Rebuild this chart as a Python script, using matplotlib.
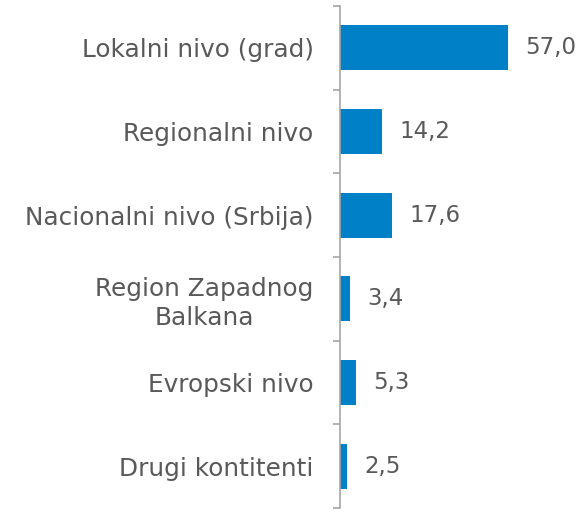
import matplotlib
matplotlib.use("Agg")
import matplotlib.pyplot as plt
import numpy as np

categories = ["Lokalni nivo (grad)", "Regionalni nivo", "Nacionalni nivo (Srbija)",
              "Region Zapadnog\nBalkana", "Evropski nivo", "Drugi kontitenti"]
values = [57.0, 14.2, 17.6, 3.4, 5.3, 2.5]

bar_color = "#0080C6"
text_color = "#595959"
axis_color = "#A6A6A6"

plt.rcParams['font.family'] = ['DejaVu Sans']

fig = plt.figure(figsize=(5.83, 5.14), dpi=100)
ax = fig.add_axes([340 / 583, 6 / 514, 243 / 583, 502 / 514])

y = np.arange(len(categories))
ax.barh(y, values, height=0.54, color=bar_color)

for yi, v in zip(y, values):
    ax.text(v + 5.8, yi, "{:.1f}".format(v).replace(".", ","), va="center", ha="left",
            fontsize=16.5, color=text_color)

ax.set_ylim(len(categories) - 0.5, -0.5)
ax.set_xlim(0, 82.4)

for s in ["top", "right", "bottom"]:
    ax.spines[s].set_visible(False)
ax.spines["left"].set_color(axis_color)
ax.spines["left"].set_linewidth(1.2)

ax.set_xticks([])
ax.set_yticks(y)
ax.set_yticklabels(categories, fontsize=17.8, color=text_color, ha="right",
                   multialignment="center", linespacing=1.25)
ax.tick_params(axis="y", which="major", length=0, pad=19)
ax.set_yticks(np.arange(-0.5, len(categories), 1.0), minor=True)
ax.tick_params(axis="y", which="minor", length=5, color=axis_color, width=1.2)

fig.savefig("out.png", dpi=100)
